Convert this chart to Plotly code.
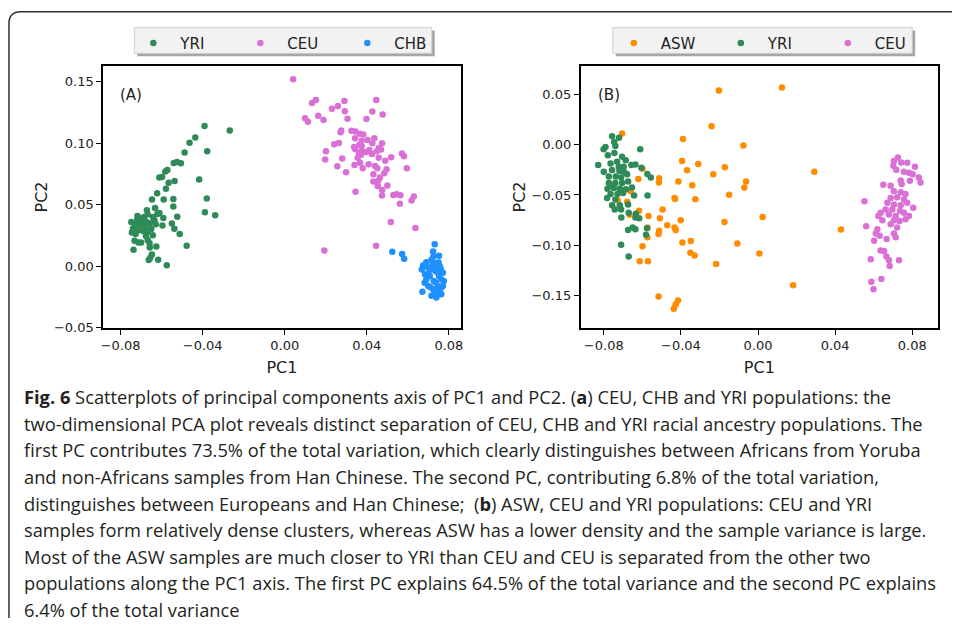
import plotly.graph_objects as go

W, H = 955, 626

# ---------------- Panel A data (PC1, PC2) ----------------
yri_a_x = [-0.0391, -0.0268, -0.0436, -0.0464, -0.0378, -0.0488, -0.0541, -0.0525, -0.0506, -0.0572,
           -0.0582, -0.0598, -0.0611, -0.0417, -0.0537, -0.0566, -0.0579, -0.0622, -0.0380, -0.0543,
           -0.0590, -0.0647, -0.0543, -0.0632, -0.0389, -0.0339, -0.0524, -0.0672, -0.0621, -0.0643,
           -0.0592, -0.0668, -0.0684, -0.0703, -0.0719, -0.0695, -0.0658, -0.0550, -0.0629, -0.0596,
           -0.0731, -0.0711, -0.0740, -0.0679, -0.0651, -0.0538, -0.0745, -0.0727, -0.0668, -0.0643,
           -0.0512, -0.0677, -0.0732, -0.0713, -0.0700, -0.0668, -0.0659, -0.0478, -0.0626, -0.0658,
           -0.0737, -0.0648, -0.0656, -0.0663, -0.0617, -0.0575, -0.0718, -0.0708, -0.0692, -0.0635,
           -0.0611, -0.0719, -0.0693, -0.0748, -0.0674]
yri_a_y = [0.1140, 0.1103, 0.1047, 0.1004, 0.0935, 0.0924, 0.0838, 0.0846, 0.0836, 0.0782,
           0.0769, 0.0726, 0.0721, 0.0705, 0.0692, 0.0678, 0.0630, 0.0593, 0.0550, 0.0547,
           0.0542, 0.0542, 0.0486, 0.0473, 0.0438, 0.0414, 0.0403, 0.0454, 0.0425, 0.0401,
           0.0392, 0.0422, 0.0401, 0.0392, 0.0379, 0.0360, 0.0350, 0.0347, 0.0342, 0.0331,
           0.0342, 0.0331, 0.0307, 0.0320, 0.0302, 0.0304, 0.0275, 0.0262, 0.0278, 0.0251,
           0.0262, 0.0246, 0.0208, 0.0192, 0.0192, 0.0214, 0.0187, 0.0166, 0.0160, 0.0152,
           0.0134, 0.0096, 0.0067, 0.0051, 0.0053, 0.0008, 0.0409, 0.0374, 0.0342, 0.0374,
           0.0433, 0.0288, 0.0288, 0.0360, 0.0360]

ceu_a_x = [0.0041, 0.0152, 0.0133, 0.0259, 0.0291, 0.0230, 0.0446, 0.0293, 0.0427, 0.0477,
           0.0163, 0.0099, 0.0113, 0.0189, 0.0306, 0.0398, 0.0275, 0.0272, 0.0325, 0.0345,
           0.0367, 0.0383, 0.0343, 0.0437, 0.0375, 0.0474, 0.0264, 0.0241, 0.0364, 0.0338,
           0.0375, 0.0427, 0.0459, 0.0343, 0.0412, 0.0396, 0.0448, 0.0469, 0.0201, 0.0197,
           0.0280, 0.0361, 0.0372, 0.0425, 0.0458, 0.0490, 0.0519, 0.0571, 0.0581, 0.0356,
           0.0367, 0.0340, 0.0409, 0.0440, 0.0451, 0.0256, 0.0380, 0.0299, 0.0496, 0.0595,
           0.0432, 0.0485, 0.0464, 0.0432, 0.0456, 0.0453, 0.0500, 0.0475, 0.0345, 0.0474,
           0.0529, 0.0545, 0.0564, 0.0629, 0.0618, 0.0561, 0.0517, 0.0637, 0.0193, 0.0445,
           0.0404, 0.0375]
ceu_a_y = [0.1519, 0.1351, 0.1327, 0.1303, 0.1343, 0.1279, 0.1351, 0.1260, 0.1258, 0.1234,
           0.1223, 0.1202, 0.1175, 0.1188, 0.1199, 0.1196, 0.1103, 0.1089, 0.1100, 0.1095,
           0.1076, 0.1071, 0.1039, 0.1041, 0.1020, 0.0999, 0.1001, 0.0991, 0.0988, 0.0969,
           0.0975, 0.0999, 0.0961, 0.0953, 0.0945, 0.0929, 0.0935, 0.0948, 0.0935, 0.0868,
           0.0876, 0.0921, 0.0905, 0.0913, 0.0881, 0.0857, 0.0886, 0.0916, 0.0894, 0.0881,
           0.0841, 0.0822, 0.0828, 0.0814, 0.0796, 0.0812, 0.0796, 0.0764, 0.0788, 0.0796,
           0.0748, 0.0756, 0.0721, 0.0689, 0.0694, 0.0651, 0.0657, 0.0619, 0.0606, 0.0574,
           0.0579, 0.0585, 0.0577, 0.0566, 0.0534, 0.0507, 0.0360, 0.0310, 0.0128, 0.0166,
           0.1025, 0.0935]

chb_a_x = [0.0524, 0.0572, 0.0582, 0.0731, 0.0723, 0.0752, 0.0690, 0.0674, 0.0668, 0.0684,
           0.0699, 0.0715, 0.0739, 0.0755, 0.0771, 0.0763, 0.0747, 0.0723, 0.0699, 0.0682,
           0.0671, 0.0715, 0.0739, 0.0771, 0.0707, 0.0726, 0.0752, 0.0736, 0.0690, 0.0715,
           0.0763, 0.0731, 0.0775, 0.0720, 0.0745, 0.0728, 0.0760, 0.0710, 0.0750, 0.0735,
           0.0700, 0.0760, 0.0742, 0.0725]
chb_a_y = [0.0117, 0.0099, 0.0061, 0.0179, 0.0120, 0.0085, 0.0032, 0.0005, -0.0027, -0.0067,
           -0.0013, 0.0053, 0.0027, 0.0000, -0.0053, -0.0107, -0.0160, -0.0187, -0.0160, -0.0134,
           -0.0208, -0.0240, -0.0254, -0.0160, -0.0080, -0.0120, -0.0080, -0.0040, -0.0107, -0.0027,
           -0.0227, -0.0214, -0.0120, 0.0005, -0.0050, -0.0015, -0.0180, -0.0170, 0.0030, -0.0130,
           -0.0060, -0.0020, -0.0210, 0.0080]

# ---------------- Panel B data (PC1, PC2) ----------------
asw_b_x = [-0.0203, 0.0124, -0.0241, -0.0705, -0.0389, -0.0076, -0.0394, -0.0310, -0.0172, -0.0368,
           -0.0232, 0.0292, -0.0062, -0.0071, -0.0413, -0.0341, -0.0150, -0.0325, -0.0433, -0.0430,
           -0.0513, -0.0514, -0.0621, -0.0599, -0.0662, -0.0728, -0.0617, -0.0568, -0.0495, -0.0509,
           -0.0471, -0.0401, -0.0433, -0.0427, 0.0024, -0.0174, -0.0513, -0.0516, -0.0574, -0.0573,
           -0.0599, -0.0392, -0.0349, -0.0351, -0.0329, -0.0107, 0.0007, -0.0217, -0.0614, -0.0571,
           0.0430, 0.0182, -0.0516, -0.0415, -0.0427, -0.0437, -0.0666, -0.0679]
asw_b_y = [0.0539, 0.0568, 0.0183, 0.0111, 0.0056, -0.0007, -0.0163, -0.0193, -0.0225, -0.0255,
           -0.0294, -0.0268, -0.0366, -0.0425, -0.0366, -0.0402, -0.0497, -0.0542, -0.0529, -0.0539,
           -0.0333, -0.0376, -0.0340, -0.0238, -0.0464, -0.0552, -0.0657, -0.0709, -0.0644, -0.0732,
           -0.0800, -0.0751, -0.0823, -0.0849, -0.0719, -0.0768, -0.0856, -0.0889, -0.0921, -0.0823,
           -0.1009, -0.0973, -0.0957, -0.1075, -0.1101, -0.0983, -0.1081, -0.1186, -0.1160, -0.1160,
           -0.0843, -0.1398, -0.1509, -0.1548, -0.1588, -0.1630, -0.0696, -0.0568]

yri_b_x = [-0.0757, -0.0721, -0.0746, -0.0791, -0.0801, -0.0740, -0.0611, -0.0779, -0.0745, -0.0705,
           -0.0686, -0.0829, -0.0765, -0.0731, -0.0697, -0.0657, -0.0636, -0.0605, -0.0800, -0.0757,
           -0.0719, -0.0693, -0.0774, -0.0738, -0.0710, -0.0679, -0.0574, -0.0556, -0.0774, -0.0740,
           -0.0705, -0.0674, -0.0654, -0.0781, -0.0748, -0.0717, -0.0685, -0.0765, -0.0729, -0.0700,
           -0.0643, -0.0573, -0.0783, -0.0740, -0.0757, -0.0717, -0.0674, -0.0743, -0.0710, -0.0671,
           -0.0633, -0.0709, -0.0636, -0.0616, -0.0674, -0.0650, -0.0636, -0.0576, -0.0581, -0.0710,
           -0.0671, -0.0765, -0.0722]
yri_b_y = [0.0085, 0.0069, 0.0026, -0.0023, -0.0046, -0.0013, -0.0046, -0.0105, -0.0082, -0.0121,
           -0.0154, -0.0203, -0.0186, -0.0170, -0.0219, -0.0203, -0.0196, -0.0229, -0.0268, -0.0252,
           -0.0261, -0.0274, -0.0317, -0.0317, -0.0327, -0.0294, -0.0291, -0.0327, -0.0382, -0.0382,
           -0.0382, -0.0366, -0.0425, -0.0438, -0.0431, -0.0438, -0.0444, -0.0490, -0.0490, -0.0480,
           -0.0506, -0.0506, -0.0529, -0.0546, -0.0601, -0.0601, -0.0595, -0.0644, -0.0644, -0.0676,
           -0.0686, -0.0725, -0.0725, -0.0732, -0.0849, -0.0823, -0.0840, -0.0830, -0.0895, -0.0996,
           -0.1111, -0.0399, -0.0219]

ceu_b_x = [0.0726, 0.0705, 0.0743, 0.0774, 0.0702, 0.0717, 0.0814, 0.0757, 0.0783, 0.0802,
           0.0834, 0.0740, 0.0788, 0.0843, 0.0650, 0.0688, 0.0745, 0.0705, 0.0740, 0.0765,
           0.0688, 0.0722, 0.0757, 0.0552, 0.0671, 0.0705, 0.0740, 0.0774, 0.0805, 0.0662,
           0.0697, 0.0736, 0.0636, 0.0679, 0.0714, 0.0757, 0.0783, 0.0624, 0.0645, 0.0705,
           0.0734, 0.0765, 0.0561, 0.0688, 0.0722, 0.0619, 0.0611, 0.0631, 0.0667, 0.0705,
           0.0602, 0.0714, 0.0636, 0.0654, 0.0666, 0.0679, 0.0683, 0.0731, 0.0585, 0.0588,
           0.0640, 0.0599]
ceu_b_y = [-0.0127, -0.0163, -0.0176, -0.0180, -0.0209, -0.0248, -0.0219, -0.0268, -0.0278, -0.0294,
           -0.0327, -0.0356, -0.0359, -0.0376, -0.0399, -0.0408, -0.0392, -0.0464, -0.0474, -0.0490,
           -0.0529, -0.0523, -0.0546, -0.0562, -0.0578, -0.0595, -0.0601, -0.0578, -0.0627, -0.0644,
           -0.0644, -0.0660, -0.0676, -0.0693, -0.0709, -0.0676, -0.0709, -0.0709, -0.0751, -0.0751,
           -0.0758, -0.0742, -0.0810, -0.0791, -0.0823, -0.0840, -0.0882, -0.0905, -0.0938, -0.0882,
           -0.0954, -0.0921, -0.1052, -0.1058, -0.1111, -0.1150, -0.1205, -0.1150, -0.1140, -0.1362,
           -0.1336, -0.1437]

# ---------------- tick values ----------------
pc1_ticks = [-0.08, -0.04, 0.00, 0.04, 0.08]
pc2_ticks_a = [-0.05, 0.00, 0.05, 0.10, 0.15]
pc2_ticks_b = [-0.15, -0.10, -0.05, 0.00, 0.05]

caption_lines = [
    "<b>Fig. 6</b> Scatterplots of principal components axis of PC1 and PC2. (<b>a</b>) CEU, CHB and YRI populations: the",
    "two-dimensional PCA plot reveals distinct separation of CEU, CHB and YRI racial ancestry populations. The",
    "first PC contributes 73.5% of the total variation, which clearly distinguishes between Africans from Yoruba",
    "and non-Africans samples from Han Chinese. The second PC, contributing 6.8% of the total variation,",
    "distinguishes between Europeans and Han Chinese; &nbsp;(<b>b</b>) ASW, CEU and YRI populations: CEU and YRI",
    "samples form relatively dense clusters, whereas ASW has a lower density and the sample variance is large.",
    "Most of the ASW samples are much closer to YRI than CEU and CEU is separated from the other two",
    "populations along the PC1 axis. The first PC explains 64.5% of the total variance and the second PC explains",
    "6.4% of the total variance",
]

C_YRI, C_CEU, C_CHB, C_ASW = "#2e8b57", "#da70d6", "#1e90ff", "#ff8c00"


def fx(p):
    return p / W


def fy(p):
    return 1 - p / H


fig = go.Figure()

def add(xs, ys, name, color, xa, ya, legend):
    fig.add_trace(go.Scatter(
        x=xs, y=ys, mode="markers", name=name, xaxis=xa, yaxis=ya, legend=legend,
        marker=dict(size=6.5, color=color, line=dict(width=0)),
    ))

add(yri_a_x, yri_a_y, "YRI", C_YRI, "x", "y", "legend")
add(ceu_a_x, ceu_a_y, "CEU", C_CEU, "x", "y", "legend")
add(chb_a_x, chb_a_y, "CHB", C_CHB, "x", "y", "legend")
add(asw_b_x, asw_b_y, "ASW", C_ASW, "x2", "y2", "legend2")
add(yri_b_x, yri_b_y, "YRI", C_YRI, "x2", "y2", "legend2")
add(ceu_b_x, ceu_b_y, "CEU", C_CEU, "x2", "y2", "legend2")

tickfont = dict(family="DejaVu Sans", size=13, color="#222222")
titlefont = dict(family="DejaVu Sans", size=16, color="#222222")
common = dict(showline=True, linecolor="black", linewidth=1.6, mirror=True,
              ticks="outside", ticklen=5, tickwidth=1, tickcolor="black",
              showgrid=False, zeroline=False, tickfont=tickfont, tickformat=".2f")

yd = [fy(332), fy(67)]
fig.update_layout(
    xaxis=dict(domain=[fx(101.7), fx(461)], range=[-0.0885, 0.0857], tickvals=pc1_ticks,
               anchor="y", title=dict(text="PC1", font=titlefont, standoff=10), **common),
    yaxis=dict(domain=yd, range=[-0.05, 0.1626], tickvals=pc2_ticks_a,
               anchor="x", title=dict(text="PC2", font=titlefont, standoff=2), **common),
    xaxis2=dict(domain=[fx(581.7), fx(941)], range=[-0.092, 0.0934], tickvals=pc1_ticks,
                anchor="y2", title=dict(text="PC1", font=titlefont, standoff=10), **common),
    yaxis2=dict(domain=yd, range=[-0.182, 0.0781], tickvals=pc2_ticks_b,
                anchor="x2", title=dict(text="PC2", font=titlefont, standoff=2), **common),
)

legfont = dict(family="DejaVu Sans", size=15, color="#222222")
fig.update_layout(
    legend=dict(orientation="h", x=fx(125), y=fy(27), xanchor="left", yanchor="top",
                bgcolor="rgba(0,0,0,0)", borderwidth=0, font=legfont,
                entrywidth=48, itemwidth=44),
    legend2=dict(orientation="h", x=fx(608), y=fy(27), xanchor="left", yanchor="top",
                 bgcolor="rgba(0,0,0,0)", borderwidth=0, font=legfont,
                 entrywidth=48, itemwidth=44),
)

shapes = []
# outer rounded frame
shapes.append(dict(type="path", xref="paper", yref="paper",
                   path=f"M {fx(7)},0 L {fx(7)},{fy(24)} Q {fx(7)},{fy(12)} {fx(19)},{fy(12)} L 1,{fy(12)}",
                   line=dict(color="#333333", width=1.5)))
# legend boxes with shadow
for x0, x1 in [(133, 432), (614, 915)]:
    shapes.append(dict(type="rect", xref="paper", yref="paper", layer="below",
                       x0=fx(x0 + 3), x1=fx(x1 + 3), y0=fy(57), y1=fy(31),
                       fillcolor="#a6a6a6", line=dict(width=0)))
    shapes.append(dict(type="rect", xref="paper", yref="paper", layer="below",
                       x0=fx(x0), x1=fx(x1), y0=fy(54), y1=fy(28),
                       fillcolor="#f2f2f2", line=dict(color="#d0d0d0", width=1)))

annotations = [
    dict(text="(A)", x=fx(117), y=fy(96), xref="paper", yref="paper", xanchor="left",
         yanchor="middle", showarrow=False, font=dict(family="DejaVu Sans", size=15, color="#222222")),
    dict(text="(B)", x=fx(597), y=fy(96), xref="paper", yref="paper", xanchor="left",
         yanchor="middle", showarrow=False, font=dict(family="DejaVu Sans", size=15, color="#222222")),
]
for i, line in enumerate(caption_lines):
    annotations.append(dict(text=line, x=fx(20), y=fy(402 + 26.9 * i), xref="paper", yref="paper",
                            xanchor="left", yanchor="middle", showarrow=False, align="left",
                            font=dict(family="Open Sans", size=18.3, color="#231f20")))

fig.update_layout(
    width=W, height=H, margin=dict(l=0, r=0, t=0, b=0),
    paper_bgcolor="white", plot_bgcolor="white",
    shapes=shapes, annotations=annotations,
)

fig.write_html("out.html", config={"displayModeBar": False},
               post_script="document.body.style.margin='0';document.body.style.overflow='hidden';")
